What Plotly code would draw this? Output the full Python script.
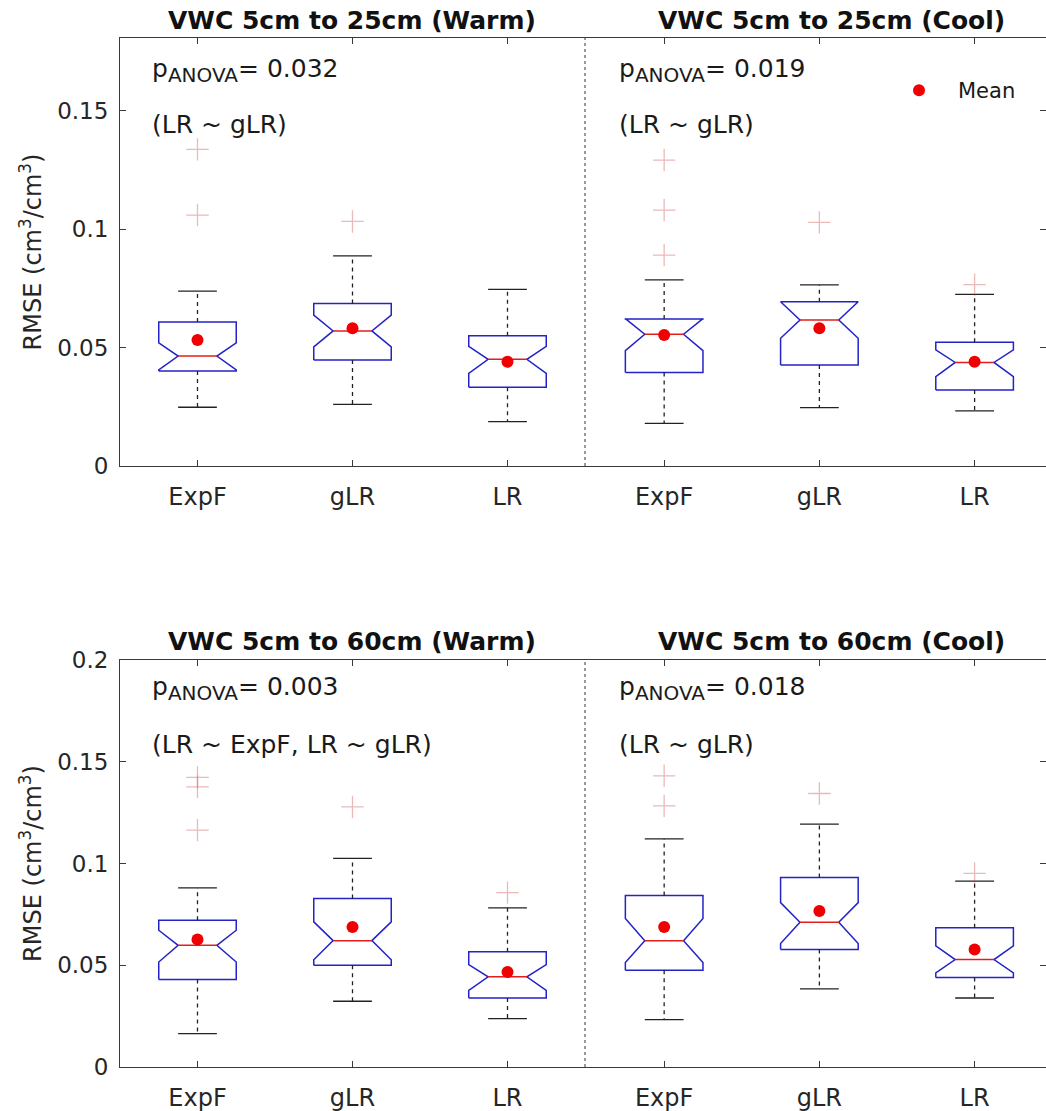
import plotly.graph_objects as go

# ---------------- data ----------------
categories = ["ExpF", "gLR", "LR"]

panel_titles = ["VWC 5cm to 25cm (Warm)", "VWC 5cm to 25cm (Cool)",
                "VWC 5cm to 60cm (Warm)", "VWC 5cm to 60cm (Cool)"]
p_anova = ["0.032", "0.019", "0.003", "0.018"]
pair_text = ["(LR ~ gLR)", "(LR ~ gLR)", "(LR ~ ExpF, LR ~ gLR)", "(LR ~ gLR)"]

# Warm, 5-25 cm
tl_lower_whisker = [0.0248, 0.0260, 0.0187]
tl_q1 = [0.0401, 0.0447, 0.0332]
tl_notch_lo = [0.0406, 0.0503, 0.0391]
tl_median = [0.0464, 0.0570, 0.0450]
tl_notch_hi = [0.0520, 0.0637, 0.0505]
tl_q3 = [0.0608, 0.0686, 0.0550]
tl_upper_whisker = [0.0738, 0.0887, 0.0745]
tl_mean = [0.0532, 0.0581, 0.0440]
tl_outliers = [[0.1336, 0.1059], [0.1032], []]

# Cool, 5-25 cm
tr_lower_whisker = [0.0180, 0.0246, 0.0233]
tr_q1 = [0.0395, 0.0426, 0.0321]
tr_notch_lo = [0.0487, 0.0539, 0.0377]
tr_median = [0.0556, 0.0616, 0.0437]
tr_notch_hi = [0.0622, 0.0693, 0.0490]
tr_q3 = [0.0620, 0.0693, 0.0522]
tr_upper_whisker = [0.0785, 0.0764, 0.0724]
tr_mean = [0.0553, 0.0581, 0.0440]
tr_outliers = [[0.1291, 0.1080, 0.0890], [0.1028], [0.0765]]

# Warm, 5-60 cm
bl_lower_whisker = [0.0164, 0.0323, 0.0238]
bl_q1 = [0.0430, 0.0500, 0.0339]
bl_notch_lo = [0.0516, 0.0527, 0.0377]
bl_median = [0.0598, 0.0621, 0.0443]
bl_notch_hi = [0.0672, 0.0713, 0.0503]
bl_q3 = [0.0721, 0.0828, 0.0566]
bl_upper_whisker = [0.0880, 0.1025, 0.0782]
bl_mean = [0.0626, 0.0688, 0.0467]
bl_outliers = [[0.1423, 0.1377, 0.1164], [0.1278], [0.0857]]

# Cool, 5-60 cm
br_lower_whisker = [0.0233, 0.0384, 0.0339]
br_q1 = [0.0475, 0.0577, 0.0440]
br_notch_lo = [0.0513, 0.0607, 0.0462]
br_median = [0.0620, 0.0711, 0.0528]
br_notch_hi = [0.0730, 0.0808, 0.0595]
br_q3 = [0.0843, 0.0931, 0.0684]
br_upper_whisker = [0.1121, 0.1193, 0.0913]
br_mean = [0.0688, 0.0767, 0.0577]
br_outliers = [[0.1431, 0.1283], [0.1344], [0.0951]]

top_yticks = [0, 0.05, 0.1, 0.15]
top_yticktext = ["0", "0.05", "0.1", "0.15"]
bottom_yticks = [0, 0.05, 0.1, 0.15, 0.2]
bottom_yticktext = ["0", "0.05", "0.1", "0.15", "0.2"]

panels = [
    dict(lw=tl_lower_whisker, q1=tl_q1, nlo=tl_notch_lo, med=tl_median, nhi=tl_notch_hi,
         q3=tl_q3, uw=tl_upper_whisker, mean=tl_mean, out=tl_outliers),
    dict(lw=tr_lower_whisker, q1=tr_q1, nlo=tr_notch_lo, med=tr_median, nhi=tr_notch_hi,
         q3=tr_q3, uw=tr_upper_whisker, mean=tr_mean, out=tr_outliers),
    dict(lw=bl_lower_whisker, q1=bl_q1, nlo=bl_notch_lo, med=bl_median, nhi=bl_notch_hi,
         q3=bl_q3, uw=bl_upper_whisker, mean=bl_mean, out=bl_outliers),
    dict(lw=br_lower_whisker, q1=br_q1, nlo=br_notch_lo, med=br_median, nhi=br_notch_hi,
         q3=br_q3, uw=br_upper_whisker, mean=br_mean, out=br_outliers),
]

# ---------------- styling / layout ----------------
W_PX, H_PX = 1046, 1111
FONT = "DejaVu Sans"
BOX_HALF = 0.25
NOTCH_HALF = 0.125
CAP_HALF = 0.125
BLUE = "rgb(35,35,200)"
RED = "rgb(225,30,30)"
AXC = "#3a3a3a"

def px_x(p):
    return p / W_PX

def px_y(p):
    return 1 - p / H_PX

left_dom = [px_x(120), px_x(585)]
right_dom = [px_x(585), 1.0]
top_dom = [px_y(466), px_y(38)]
bot_dom = [px_y(1067), px_y(660)]

fig = go.Figure()

axis_ids = [("x", "y"), ("x2", "y2"), ("x3", "y3"), ("x4", "y4")]

for k, p in enumerate(panels):
    xa, ya = axis_ids[k]
    for j in range(len(categories)):
        c = j + 1
        q1, nlo, med, nhi, q3 = p["q1"][j], p["nlo"][j], p["med"][j], p["nhi"][j], p["q3"][j]
        lw, uw = p["lw"][j], p["uw"][j]
        # notched box outline
        fig.add_trace(go.Scatter(
            x=[c - BOX_HALF, c - BOX_HALF, c - NOTCH_HALF, c - BOX_HALF, c - BOX_HALF,
               c + BOX_HALF, c + BOX_HALF, c + NOTCH_HALF, c + BOX_HALF, c + BOX_HALF, c - BOX_HALF],
            y=[q1, nlo, med, nhi, q3, q3, nhi, med, nlo, q1, q1],
            mode="lines", line=dict(color=BLUE, width=1.5),
            xaxis=xa, yaxis=ya, showlegend=False, hoverinfo="skip"))
        # median
        fig.add_trace(go.Scatter(
            x=[c - NOTCH_HALF, c + NOTCH_HALF], y=[med, med],
            mode="lines", line=dict(color=RED, width=1.5),
            xaxis=xa, yaxis=ya, showlegend=False, hoverinfo="skip"))
        # whiskers (dashed)
        fig.add_trace(go.Scatter(
            x=[c, c, None, c, c], y=[q3, uw, None, q1, lw],
            mode="lines", line=dict(color="#222222", width=1.3, dash="4px,4px"),
            xaxis=xa, yaxis=ya, showlegend=False, hoverinfo="skip"))
        # whisker caps
        fig.add_trace(go.Scatter(
            x=[c - CAP_HALF, c + CAP_HALF, None, c - CAP_HALF, c + CAP_HALF],
            y=[uw, uw, None, lw, lw],
            mode="lines", line=dict(color="#222222", width=1.3),
            xaxis=xa, yaxis=ya, showlegend=False, hoverinfo="skip"))
        # outliers
        if p["out"][j]:
            fig.add_trace(go.Scatter(
                x=[c] * len(p["out"][j]), y=p["out"][j], mode="markers",
                marker=dict(symbol="cross-thin", size=16,
                            line=dict(color="rgba(205,70,70,0.38)", width=1.3)),
                xaxis=xa, yaxis=ya, showlegend=False, hoverinfo="skip"))
    # means
    fig.add_trace(go.Scatter(
        x=[1, 2, 3], y=p["mean"], mode="markers", name="Mean",
        marker=dict(color="rgb(240,0,0)", size=12),
        xaxis=xa, yaxis=ya, showlegend=(k == 0), hoverinfo="skip"))

xcommon = dict(range=[0.5, 3.5], tickvals=[1, 2, 3], ticktext=categories,
               ticks="inside", ticklen=6, tickcolor=AXC, showline=True, linecolor=AXC,
               linewidth=1, mirror="ticks", showgrid=False, zeroline=False,
               tickfont=dict(family=FONT, size=24, color="#262626"),
               ticklabelstandoff=9, automargin=False, fixedrange=True)
xright = dict(xcommon, range=[0.49, 3.46])

ytitle = dict(text="RMSE (cm<sup>3</sup>/cm<sup>3</sup>)",
              font=dict(family=FONT, size=24, color="#262626"), standoff=8)
ycommon = dict(ticks="inside", ticklen=6, tickcolor=AXC, showline=True, linecolor=AXC,
               linewidth=1, showgrid=False, zeroline=False,
               tickfont=dict(family=FONT, size=23, color="#262626"),
               ticklabelstandoff=6, automargin=False, fixedrange=True)

top_range = [0, 0.1806]
bot_range = [0, 0.2]

fig.update_layout(
    width=W_PX, height=H_PX,
    margin=dict(l=0, r=0, t=0, b=0),
    paper_bgcolor="white", plot_bgcolor="white",
    font=dict(family=FONT, color="#1a1a1a"),
    xaxis=dict(xcommon, domain=left_dom, anchor="y"),
    yaxis=dict(ycommon, domain=top_dom, anchor="x", range=top_range,
               tickvals=top_yticks, ticktext=top_yticktext, title=ytitle),
    xaxis2=dict(xright, domain=right_dom, anchor="y2"),
    yaxis2=dict(ycommon, domain=top_dom, anchor="x2", range=top_range, side="right",
                tickvals=top_yticks, showticklabels=False),
    xaxis3=dict(xcommon, domain=left_dom, anchor="y3"),
    yaxis3=dict(ycommon, domain=bot_dom, anchor="x3", range=bot_range,
                tickvals=bottom_yticks, ticktext=bottom_yticktext, title=ytitle),
    xaxis4=dict(xright, domain=right_dom, anchor="y4"),
    yaxis4=dict(ycommon, domain=bot_dom, anchor="x4", range=bot_range, side="right",
                tickvals=bottom_yticks, showticklabels=False),
    showlegend=True,
    legend=dict(x=px_x(880), y=px_y(70), xanchor="left", yanchor="top",
                bgcolor="rgba(0,0,0,0)", borderwidth=0, itemwidth=68,
                font=dict(family=FONT, size=21, color="#1a1a1a")),
)

# dotted dividers between warm and cool panels
for ya in ["y", "y3"]:
    fig.add_shape(type="line", xref="paper", x0=px_x(585), x1=px_x(585),
                  yref=f"{ya} domain", y0=0, y1=1,
                  line=dict(color="#333333", width=1, dash="dot"))

# panel titles
title_x = [352, 831, 352, 831]
title_y = [20.5, 20.5, 641, 641]
for k in range(4):
    fig.add_annotation(text=f"<b>{panel_titles[k]}</b>", xref="paper", yref="paper",
                       x=px_x(title_x[k]), y=px_y(title_y[k]), xanchor="center",
                       yanchor="middle", showarrow=False,
                       font=dict(family=FONT, size=25, color="#111111"))

# p-value annotations
ann_x = [150, 617, 150, 617]
p_line_y = [71, 71, 688, 688]
pair_line_y = [124.5, 124.5, 744, 744]
for k in range(4):
    fig.add_annotation(
        text=f"p<sub><span style='font-size:20px'>ANOVA</span></sub>= {p_anova[k]}",
        xref="paper", yref="paper", x=px_x(ann_x[k]), y=px_y(p_line_y[k]),
        xanchor="left", yanchor="middle", showarrow=False,
        font=dict(family=FONT, size=25, color="#1a1a1a"))
    fig.add_annotation(
        text=pair_text[k], xref="paper", yref="paper",
        x=px_x(ann_x[k]), y=px_y(pair_line_y[k]),
        xanchor="left", yanchor="middle", showarrow=False,
        font=dict(family=FONT, size=25, color="#1a1a1a"))

fig.write_html("out.html", config={"displayModeBar": False},
               post_script="document.body.style.margin='0';document.body.style.overflow='hidden';")
